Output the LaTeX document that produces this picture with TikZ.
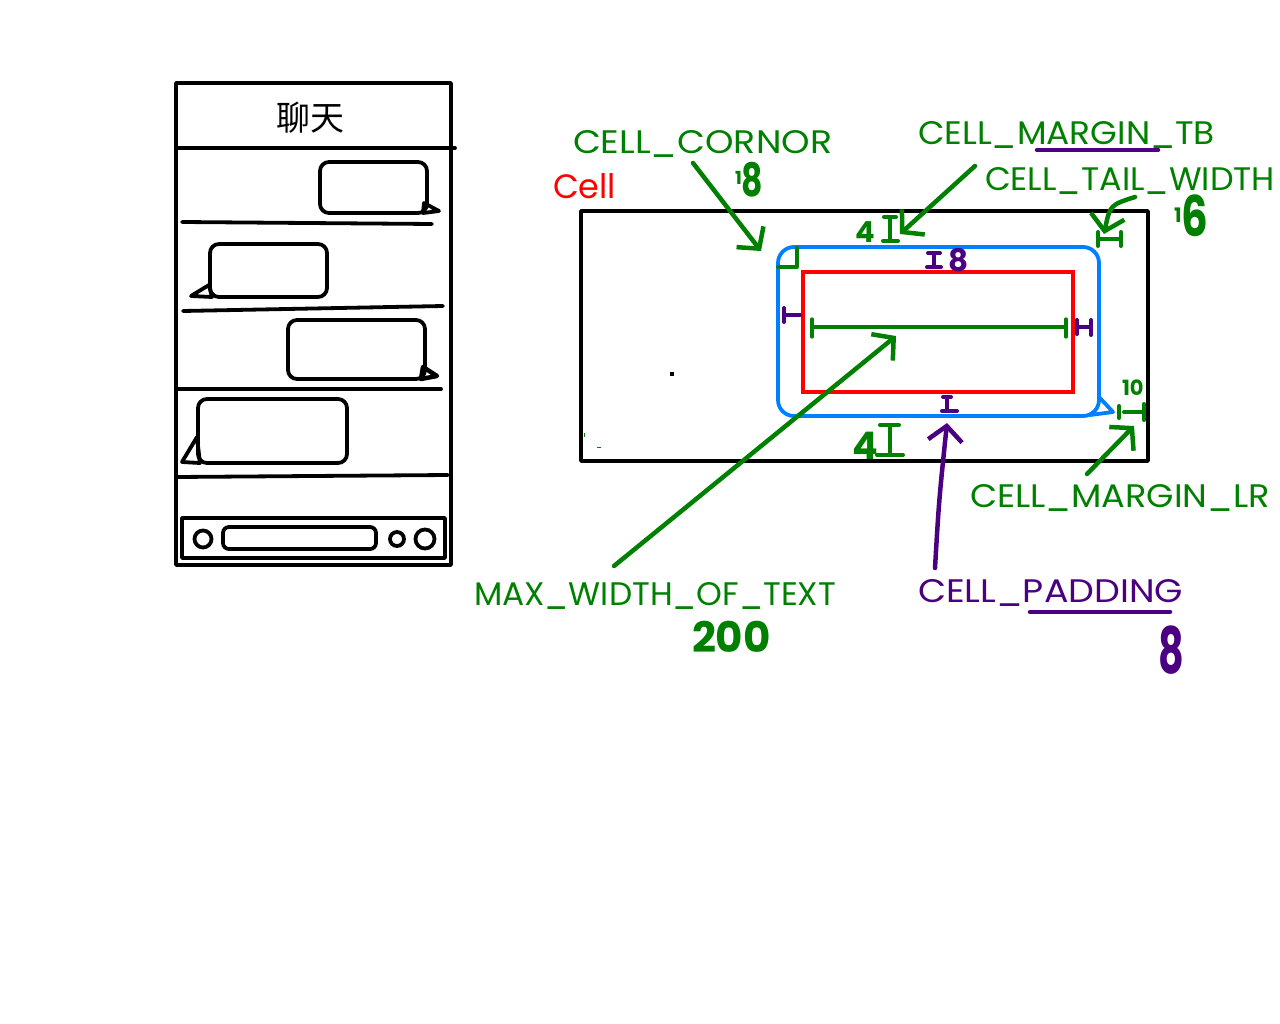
\documentclass[tikz,border=0pt]{standalone}
\usepackage{fontspec}
\setmainfont{Poppins}
\newfontfamily\cjk{Noto Sans CJK SC}
\usetikzlibrary{arrows.meta}
\definecolor{gr}{RGB}{0,128,0}
\definecolor{pu}{RGB}{75,0,130}
\definecolor{bl}{RGB}{0,128,255}
\newcommand\lbl[2]{\resizebox{#1}{23pt}{#2}}
\begin{document}
\begin{tikzpicture}[x=1pt,y=-1pt,
  ink/.style={draw=black,line width=3.8pt,line cap=round,line join=round},
  gline/.style={draw=gr,line width=4pt,line cap=round,line join=round},
  pline/.style={draw=pu,line width=4pt,line cap=round,line join=round},
  ptr/.style={line width=4.5pt,line cap=round,-{Straight Barb[length=15pt,width=34pt]}},
  lab/.style={anchor=base west,inner sep=0pt,outer sep=0pt},
  hw/.style={anchor=base,inner sep=0pt,outer sep=0pt}]
\useasboundingbox[fill=white] (0,0) rectangle (1280,1024);

% ---------------- phone mock-up ----------------
\draw[ink] (176,83) rectangle (451,565);
\node[inner sep=0pt,font=\cjk\fontsize{34}{34}\selectfont] (title) at (310,118) {聊天};
\draw[ink] (176,148) -- (455,148);
% bubble 1 (right)
\draw[ink,rounded corners=9pt] (320,162) rectangle (427,213);
\draw[ink] (424,203) -- (439,211) -- (423,213) -- cycle;
\draw[ink] (182,222) -- (432,224);
% bubble 2 (left)
\draw[ink,rounded corners=9pt] (210,244) rectangle (327,297);
\draw[ink] (209,285) -- (191,296) -- (212,297) -- cycle;
\draw[ink] (183,311) -- (443,306);
% bubble 3 (right)
\draw[ink,rounded corners=9pt] (288,320) rectangle (425,379);
\draw[ink,line width=4.5pt] (423,367) -- (437,376) -- (421,379) -- cycle;
\draw[ink] (177,389) -- (441,389);
% bubble 4 (left)
\draw[ink,rounded corners=9pt] (198,399) rectangle (347,463);
\draw[ink] (197,437) -- (182,462) -- (200,463) -- cycle;
\draw[ink] (177,477) -- (448,475);
% input bar
\draw[ink] (182,518) rectangle (445,558);
\draw[ink] (203,539) circle (8.5);
\draw[ink,rounded corners=6pt] (223,527) rectangle (376,549);
\draw[ink] (397,539) circle (7);
\draw[ink] (425,539) circle (9.5);

% ---------------- cell diagram ----------------
\draw[ink] (581,211) rectangle (1148,461);
\draw[draw=bl,line width=3.8pt,rounded corners=16pt] (778,247) rectangle (1099,416);
\draw[draw=bl,line width=3.8pt,line join=round] (1099,397) -- (1113,412) -- (1090,415);
\draw[red,line width=3.8pt] (803,272) rectangle (1073,392);
% stray specks
\fill[black] (670,372) rectangle (674,376);
\fill[gr] (583.5,433) rectangle (585,437);
\fill[gr] (597,446.5) rectangle (601,448);

% labels
\node[lab,text=gr] (cornor) at (573,154) {\lbl{259pt}{CELL\_CORNOR}};
\node[lab,text=red] (cell) at (553,199) {\resizebox{63pt}{25pt}{Cell}};
\node[lab,text=gr] (margintb) at (918,145) {\lbl{297pt}{CELL\_MARGIN\_TB}};
\node[lab,text=gr] (tailw) at (985,191) {\lbl{290pt}{CELL\_TAIL\_WIDTH}};
\node[lab,text=gr] (marginlr) at (970,507) {\lbl{300pt}{CELL\_MARGIN\_LR}};
\node[lab,text=gr] (maxw) at (474,605) {\lbl{362pt}{MAX\_WIDTH\_OF\_TEXT}};
\node[lab,text=pu] (padding) at (918,602) {\lbl{265pt}{CELL\_PADDING}};
\draw[pline,line width=4.5pt] (1037,150) -- (1158,150);
\draw[pline,line width=4.5pt] (1030,612) -- (1170,612);

% handwritten values
\node[hw,text=gr,anchor=base west] (v18) at (735,197)
  {\bfseries\raisebox{12pt}{\fontsize{18}{18}\selectfont 1}\scalebox{0.72}[1]{\fontsize{46}{46}\selectfont 8}};
\node[hw,text=gr,anchor=base west] (v16) at (1174,237)
  {\bfseries\raisebox{14pt}{\fontsize{20}{20}\selectfont 1}\scalebox{0.75}[1]{\fontsize{56}{56}\selectfont 6}};
\node[hw,text=gr,anchor=base west] (v200) at (692,652) {\bfseries\fontsize{42}{42}\selectfont 200};
\node[hw,text=pu,anchor=base west] (v8) at (1158,673) {\bfseries\scalebox{0.62}[1]{\fontsize{64}{64}\selectfont 8}};
\node[hw,text=gr,anchor=base west] (v10) at (1122,395) {\bfseries\fontsize{21}{21}\selectfont 10};
\node[hw,text=gr] (v4a) at (865,243) {\bfseries\fontsize{29}{29}\selectfont 4};
\node[hw,text=gr] (v4b) at (865,459) {\bfseries\fontsize{38}{38}\selectfont 4};
\node[hw,text=pu] (v8b) at (959,272) {\bfseries\fontsize{31}{31}\selectfont 8};

% dimension marks
\draw[gline] (778,267) -- (797,267) -- (797,248);                        % corner
\draw[gline] (884,217) -- (896,217) (890,217) -- (890,241) (883,241) -- (898,241); % top margin
\draw[gline] (880,425) -- (899,425) (890,425) -- (890,455) (877,455) -- (903,455); % bottom margin
\draw[gline,line width=3.2pt] (812,327) -- (1066,327) (812,319) -- (812,337) (1066,319) -- (1066,337); % max width
\draw[gline] (1098,232) -- (1098,246) (1098,239) -- (1121,239) (1121,232) -- (1121,246); % tail width
\draw[gline] (1119,406) -- (1119,418) (1124,412) -- (1143,412) (1144,404) -- (1144,420); % margin lr
\draw[pline] (928,253) -- (940,253) (934,253) -- (934,267) (927,267) -- (941,267); % padding top
\draw[pline] (943,397) -- (951,397) (947,397) -- (947,411) (942,411) -- (957,411); % padding bottom
\draw[pline] (784,308) -- (784,322) (784,315) -- (800,315);                % padding left
\draw[pline] (1077,320) -- (1077,334) (1077,327) -- (1091,327) (1091,320) -- (1091,335); % padding right

% pointers
\coordinate (cornorS) at (693,163);   \coordinate (cornorT) at (761,251);
\coordinate (mtbS) at (975,166);      \coordinate (mtbT) at (900,234);
\coordinate (twS) at (1135,197);      \coordinate (twT) at (1104,234);
\coordinate (maxS) at (614,566);      \coordinate (maxT) at (896,336);
\coordinate (padS) at (935,568);      \coordinate (padT) at (947,423);
\coordinate (lrS) at (1087,474);      \coordinate (lrT) at (1134,426);
\draw[gr,ptr] (cornorS) -- (cornorT);
\draw[gr,ptr] (mtbS) -- (mtbT);
\draw[gr,ptr] (twS) .. controls (1110,205) .. (twT);
\draw[gr,ptr] (maxS) -- (maxT);
\draw[pu,ptr] (padS) .. controls (939,500) .. (padT);
\draw[gr,ptr] (lrS) -- (lrT);
\end{tikzpicture}
\end{document}
